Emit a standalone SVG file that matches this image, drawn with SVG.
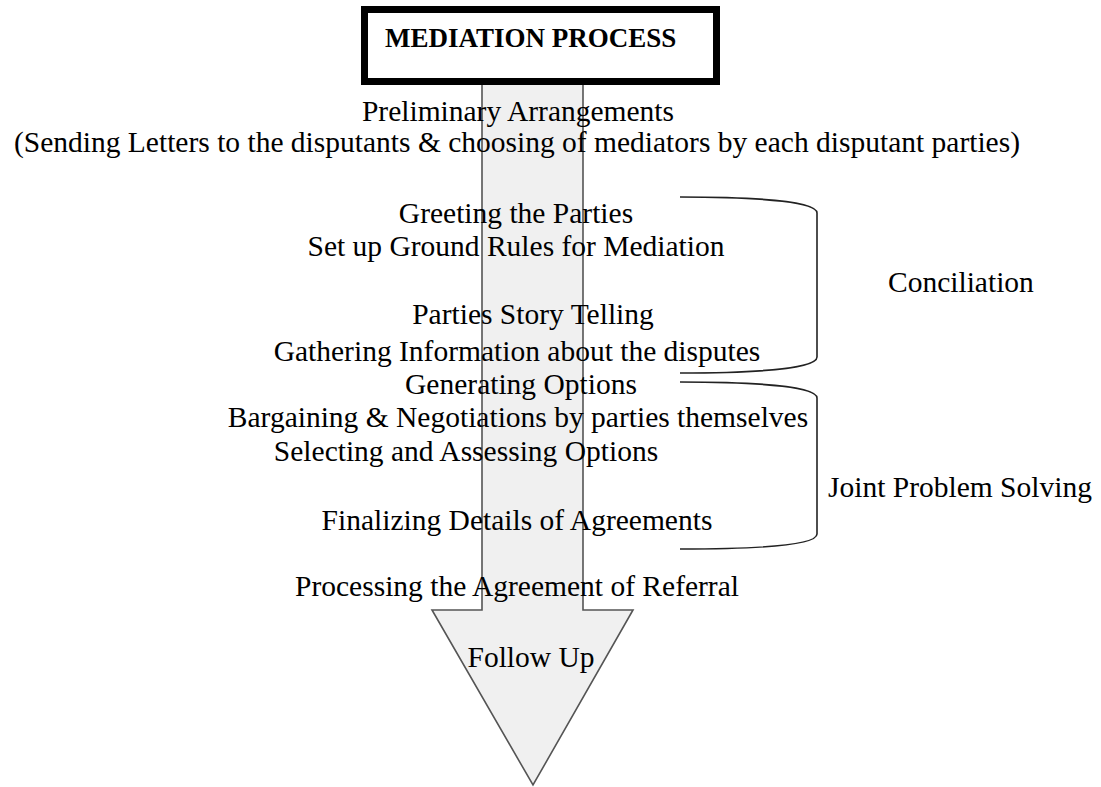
<svg xmlns="http://www.w3.org/2000/svg" width="1101" height="787" viewBox="0 0 1101 787">
<style>
  .t { font-family: "Liberation Serif", "Times New Roman", serif; font-size: 29.5px; fill: #000; }
  .c { text-anchor: middle; }
  .title { font-family: "Liberation Serif", "Times New Roman", serif; font-size: 27px; font-weight: bold; fill: #000; }
  .brace { fill: none; stroke: #222; stroke-width: 1.6; }
  .arrow { fill: #f0f0f0; stroke: #555; stroke-width: 1.6; stroke-linejoin: miter; }
</style>
<rect width="1101" height="787" fill="#fff"/>
<g id="connectors">
  <path id="flow-arrow" class="arrow" d="M482,80 L583,80 L583,610 L633,610 L533,785 L432,610 L482,610 Z"/>
  <path id="brace-conciliation" class="brace" d="M680,197 C770,197 817,203 817,213 L817,357 C817,367 770,373 680,373"/>
  <path id="brace-joint" class="brace" d="M680,382 C770,382 817,388 817,398 L817,534 C817,544 770,549 680,549"/>
</g>
<g id="title">
  <rect x="364.5" y="9.5" width="352" height="72" fill="#fff" stroke="#000" stroke-width="7"/>
  <text class="title" x="385" y="47">MEDIATION PROCESS</text>
</g>
<g id="preliminary">
  <text class="t c" x="518" y="121">Preliminary Arrangements</text>
  <text class="t c" x="517" y="152">(Sending Letters to the disputants &amp; choosing of mediators by each disputant parties)</text>
</g>
<g id="greeting">
  <text class="t c" x="516" y="223">Greeting the Parties</text>
  <text class="t c" x="516" y="256">Set up Ground Rules for Mediation</text>
</g>
<g id="story">
  <text class="t c" x="533" y="324">Parties Story Telling</text>
  <text class="t c" x="517" y="361">Gathering Information about the disputes</text>
</g>
<g id="options">
  <text class="t c" x="521" y="394">Generating Options</text>
  <text class="t c" x="518" y="427">Bargaining &amp; Negotiations by parties themselves</text>
  <text class="t c" x="466" y="461">Selecting and Assessing Options</text>
</g>
<g id="finalizing">
  <text class="t c" x="517" y="530">Finalizing Details of Agreements</text>
</g>
<g id="processing">
  <text class="t c" x="517" y="596">Processing the Agreement of Referral</text>
</g>
<g id="follow-up">
  <text class="t c" x="531" y="667">Follow Up</text>
</g>
<g id="conciliation">
  <text class="t" x="888" y="292">Conciliation</text>
</g>
<g id="joint-problem-solving">
  <text class="t" x="828" y="497">Joint Problem Solving</text>
</g>
</svg>
